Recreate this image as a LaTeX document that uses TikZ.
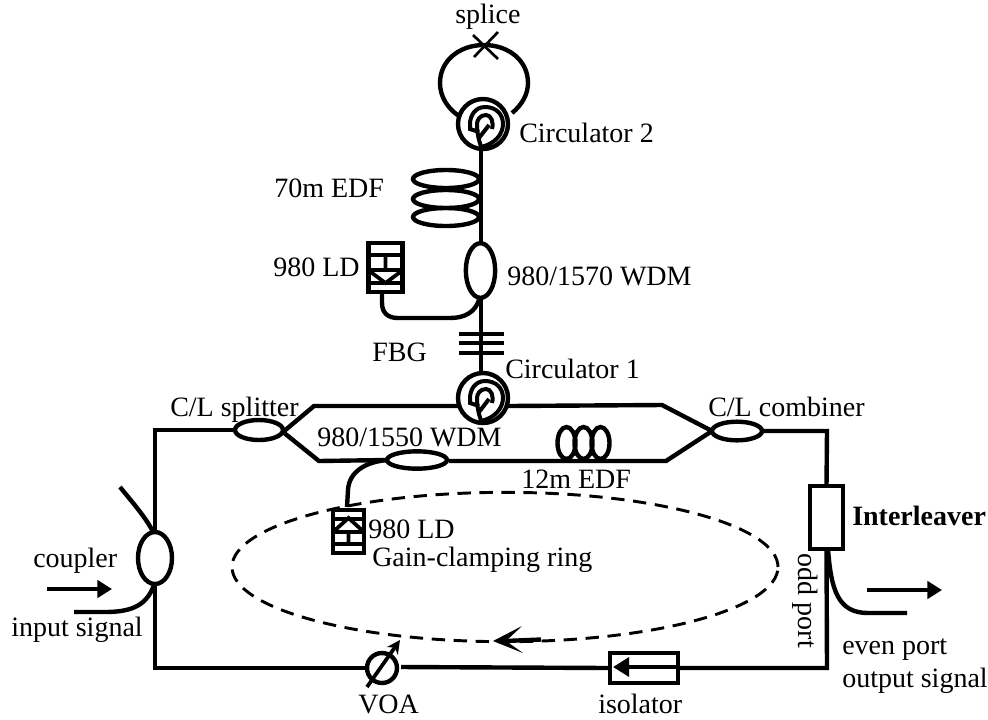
\documentclass[tikz,border=0pt]{standalone}
\usepackage{fontspec}
\setmainfont{Liberation Serif}
\usetikzlibrary{shapes.geometric,arrows.meta}
\tikzset{
  x=0.75pt,y=-0.75pt,
  fibre/.style={line width=3.3pt,line join=miter},
  comp/.style={draw,line width=3.3pt,fill=white,inner sep=0pt,outer sep=0pt},
  ell/.style={comp,ellipse},
  lbl/.style={anchor=base west,inner sep=0pt,font=\fontsize{21}{25}\selectfont},
  bigtip/.style={-{Triangle[length=11pt,width=13pt]}},
}
\newcommand{\circspiral}[1]{%
  \begin{scope}[shift={(#1)},line width=3pt]
    \draw (-2,23) .. controls (12,20) and (20,10) .. (20,0) .. controls (20,-10) and (13,-17) .. (2,-17)
      .. controls (-8,-17) and (-13,-8) .. (-13,0) -- (-13,5) -- (-4,8);
    \draw (9,5) .. controls (11,-2) and (8,-9) .. (3,-9) .. controls (-3,-9) and (-6,-4) .. (-6,0)
      .. controls (-6,6) and (-5,12) .. (-4,16) -- (-1,26);
    \draw (6,1) -- (-4,14);
  \end{scope}}
\begin{document}
\begin{tikzpicture}
\useasboundingbox (0,0) rectangle (988,719);
% gain clamping ring
\node[ellipse,draw,line width=2.2pt,dash pattern=on 10pt off 6.5pt,inner sep=0pt,minimum width=409.5pt,minimum height=112pt] (ring) at (505,567) {};
\coordinate (ringA) at (541,639.5);
\coordinate (ringB) at (505,641);
\draw[line width=3.3pt] (ringA) -- (ringB);
\fill (493,641) -- (522,626) -- (506,641) -- (523,653) -- cycle;

% loop at top
\coordinate (loopL) at (459,116);
\coordinate (loopR) at (512,113);
\draw[fibre] (loopL) .. controls (447,108) and (440,96) .. (440,83)
  .. controls (440,60) and (460,45) .. (484,45) .. controls (508,45) and (528,60) .. (528,83)
  .. controls (528,94) and (522,105) .. (loopR);
\coordinate (cr1) at (473,35); \coordinate (cr2) at (498,59);
\coordinate (cr3) at (498,32); \coordinate (cr4) at (474,57);
\draw[line width=2pt] (cr1) -- (cr2) (cr3) -- (cr4);

% vertical fibre
\coordinate (vtop) at (481,148);
\coordinate (vbot) at (481,372);
\draw[fibre] (vtop) -- (vbot);
% EDF coil
\foreach \n/\yy in {a/179,b/199,c/217}{
  \node[draw,ellipse,line width=3.3pt,inner sep=0pt,minimum width=49.5pt,minimum height=13.5pt] (edf\n) at (446,\yy) {};
}
% WDM 980/1570
\node[ell,minimum width=22pt,minimum height=41pt] (wdmT) at (480.5,270.5) {};
% FBG
\foreach \n/\yy in {a/334,b/343,c/353}{
  \coordinate (fl\n) at (459,\yy); \coordinate (fr\n) at (504,\yy);
  \draw[line width=2.6pt] (fl\n) -- (fr\n);
}
% top LD
\node[comp,fill=none,minimum width=25.5pt,minimum height=37pt] (ldT) at (385.5,267.5) {};
\draw[line width=2.8pt] (368,255) -- (403,255) (368,270) -- (403,270) (368,283) -- (403,283)
  (385.5,255) -- (385.5,270) (368,270) -- (385.5,283) -- (403,270);
\coordinate (ldTa) at (382,293);
\coordinate (wdmTa) at (479,300);
\draw[fibre] (ldTa) -- (382,303) .. controls (382,313) and (388,318) .. (398,318) -- (450,318)
  .. controls (465,318) and (475,312) .. (wdmTa);

% circulator 2
\node[circle,draw,line width=3.3pt,inner sep=0pt,minimum size=37.5pt] (circB) at (483,124) {};
\circspiral{483,124}

% main ring
\coordinate (tl) at (155,430); \coordinate (bl) at (155,668);
\coordinate (tr) at (827,431); \coordinate (br) at (827,668);
\node[ell,minimum width=25.5pt,minimum height=39pt] (coupler) at (155,558) {};
\node[ell,minimum width=36pt,minimum height=15pt] (split) at (259,430) {};
\node[ell,minimum width=37.5pt,minimum height=14pt] (comb) at (737,431) {};
\node[ell,minimum width=45pt,minimum height=13pt] (wdmB) at (417,460) {};
\node[comp,minimum width=24.75pt,minimum height=47.25pt] (inter) at (826.5,517.5) {};
\node[comp,minimum width=51pt,minimum height=22.5pt] (iso) at (644,668) {};
\node[circle,draw,line width=3.3pt,inner sep=0pt,minimum size=22.5pt] (voa) at (382,668) {};
\node[circle,draw,line width=3.3pt,inner sep=0pt,minimum size=37.5pt] (circA) at (483,398) {};
\circspiral{483,398}

\draw[fibre] (coupler.north) -- (tl) -- (split.west);
\draw[fibre] (coupler.south) -- (bl) -- (voa.west);
\coordinate (voaE) at (401,667);
\draw[fibre] (voaE) -- (iso.west);
\draw[fibre] (iso.east) -- (br) -- (inter.south);
\draw[fibre] (inter.north) -- (tr) -- (comb.east);
% isolator arrow
\coordinate (isoR) at (676,667);
\coordinate (isoTip) at (613,667);
\draw[fibre,-{Triangle[length=12pt,width=14pt]}] (isoR) -- (isoTip);
% branches
\coordinate (btl) at (314,406); \coordinate (bbl) at (319,461);
\coordinate (btr) at (662,405); \coordinate (bbr) at (666,461);
\coordinate (ca) at (459,406); \coordinate (cb) at (508,406);
\coordinate (wa) at (449,461);
\coordinate (sp) at (283,432); \coordinate (cm) at (712,431);
\draw[fibre] (sp) -- (btl) -- (ca);
\draw[fibre] (cb) -- (btr) -- (cm);
\draw[fibre] (sp) -- (bbl) -- (wdmB.west);
\draw[fibre] (wa) -- (bbr) -- (cm);
% 12m EDF
\foreach \n/\xx in {a/566.5,b/583.5,c/600.5}{
  \node[draw,ellipse,line width=3.3pt,inner sep=0pt,minimum width=13.5pt,minimum height=24pt] (sc\n) at (\xx,443) {};
}
% VOA arrow
\coordinate (va) at (367,687); \coordinate (vb) at (400,640);
\draw[line width=2.8pt,-{Stealth[length=10pt,width=10pt]}] (va) -- (vb);
% bottom LD
\node[comp,fill=none,minimum width=23.25pt,minimum height=32pt] (ldB) at (348.5,531.5) {};
\draw[line width=2.8pt] (333,519) -- (364,519) (333,532) -- (364,532) (333,544) -- (364,544)
  (348.5,532) -- (348.5,544) (333,532) -- (348.5,518) -- (364,532);
\coordinate (ldBa) at (347,507);
\draw[fibre] (ldBa) -- (348,490) .. controls (349,472) and (365,462) .. (wdmB.west);
% coupler tails
\coordinate (cpA) at (120,487); \coordinate (cpB) at (74,612);
\draw[fibre] (cpA) .. controls (133,503) and (147,519) .. (153,532);
\draw[fibre] (154,585) .. controls (147,604) and (134,612) .. (105,612) -- (cpB);
% interleaver tail
\coordinate (ilB) at (907,613);
\draw[fibre] (828,549) .. controls (831,590) and (838,613) .. (868,613) -- (ilB);
% arrows
\coordinate (aa) at (47,589); \coordinate (ab) at (112,589);
\coordinate (ac) at (867,590); \coordinate (ad) at (942,590);
\draw[fibre,bigtip] (aa) -- (ab);
\draw[line width=2.8pt,bigtip] (ac) -- (ad);

% labels
\node[lbl] (t1) at (455,23) {splice};
\node[lbl] (t2) at (519,142) {Circulator 2};
\node[lbl] (t3) at (274,197) {70m EDF};
\node[lbl] (t4) at (273,276) {980 LD};
\node[lbl] (t5) at (507,285) {980/1570 WDM};
\node[lbl] (t6) at (372,361) {FBG};
\node[lbl] (t7) at (505,378) {Circulator 1};
\node[lbl] (t8) at (170,416) {C/L splitter};
\node[lbl] (t9) at (317,446) {980/1550 WDM};
\node[lbl] (t10) at (708,416) {C/L combiner};
\node[lbl] (t11) at (521,488) {12m EDF};
\node[lbl] (t12) at (368,538) {980 LD};
\node[lbl] (t13) at (372,566) {Gain-clamping ring};
\node[lbl,font=\fontsize{21}{25}\selectfont\bfseries] (t14) at (852,525) {Interleaver};
\node[anchor=center,inner sep=0pt,font=\fontsize{21}{25}\selectfont,rotate=-90] (t15) at (805,601) {odd port};
\node[lbl] (t16) at (842,654) {even port};
\node[lbl] (t17) at (842,687) {output signal};
\node[lbl] (t18) at (33,567) {coupler};
\node[lbl] (t19) at (11,636) {input signal};
\node[lbl] (t20) at (358,713) {VOA};
\node[lbl] (t21) at (598,713) {isolator};
\end{tikzpicture}
\end{document}
